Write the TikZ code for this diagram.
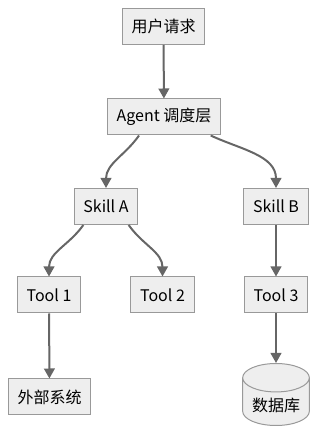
\documentclass[tikz,border=0pt]{standalone}
\usepackage{fontspec}
\setmainfont{Noto Sans CJK SC}
\usetikzlibrary{arrows.meta, shapes.geometric}
\definecolor{boxfill}{HTML}{EEEEEE}
\definecolor{boxline}{HTML}{999999}
\definecolor{linkcol}{HTML}{666666}
\tikzset{
  box/.style={rectangle, draw=boxline, fill=boxfill, line width=0.75pt,
    minimum height=27pt, inner xsep=7pt, font=\fontsize{12}{14}\selectfont},
  dbbox/.style={cylinder, shape border rotate=90, aspect=0.5, draw=boxline,
    fill=boxfill, line width=0.75pt, minimum width=50pt, minimum height=46.5pt,
    font=\fontsize{12}{14}\selectfont},
  link/.style={-{Triangle[length=7.5pt, width=8pt]}, line width=1.5pt, draw=linkcol}
}
\begin{document}
\begin{tikzpicture}[x=0.75pt, y=0.75pt]
    \useasboundingbox (0,0) rectangle (317,438);

    % Anfrage und Agent
    \node[box] (req) at (163.5, 411.5) {用户请求};
    \node[box] (agent) at (164, 321) {Agent 调度层};

    % Skills
    \node[box] (skillA) at (106, 231.5) {Skill A};
    \node[box] (skillB) at (276, 231.5) {Skill B};

    % Tools
    \node[box] (tool1) at (49, 143) {Tool 1};
    \node[box] (tool2) at (162.5, 143) {Tool 2};
    \node[box] (tool3) at (276, 143) {Tool 3};

    % Ziele
    \node[box] (ext) at (49.5, 41) {外部系统};
    \node[dbbox, anchor=north] (db) at (276, 75) {数据库};

    \draw[link] (req) -- (agent);
    \draw[link] ([xshift=-18.75pt]agent.south) to[out=235, in=90] (skillA.north);
    \draw[link] ([xshift=35pt]agent.south) to[out=-25, in=90] (skillB.north);
    \draw[link] ([xshift=-17pt]skillA.south) to[out=235, in=90] (tool1.north);
    \draw[link] ([xshift=17pt]skillA.south) to[out=-55, in=90] (tool2.north);
    \draw[link] (skillB) -- (tool3);
    \draw[link] (tool1) -- (ext);
    \draw[link] (tool3) -- (db.north);
\end{tikzpicture}
\end{document}
